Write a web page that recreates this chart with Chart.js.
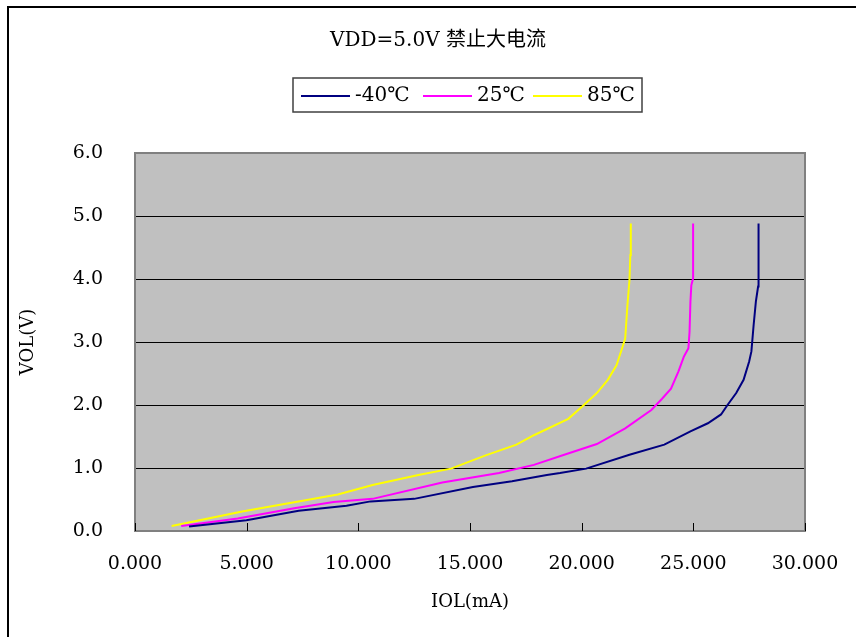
<!DOCTYPE html>
<html>
<head>
<meta charset="utf-8">
<script src="https://cdn.jsdelivr.net/npm/chart.js@4.4.1/dist/chart.umd.min.js"></script>
<style>
  html, body { margin: 0; padding: 0; background: #fff; }
  #wrap { width: 856px; height: 637px; }
</style>
</head>
<body>
<div id="wrap"><canvas id="ivChart" width="856" height="637"></canvas></div>
<script>
// Curve data (IOL in mA, VOL in V)
const seriesLabels = ['-40℃', '25℃', '85℃'];
const seriesColors = ['#000080', '#FF00FF', '#FFFF00'];

const coldI = [2.42, 4.99, 7.33, 9.47, 10.55, 12.5, 15.13, 16.88, 18.44, 19.03, 20.2, 22.14, 23.7, 24.87, 25.65, 26.24, 26.53, 26.92, 27.25, 27.5, 27.6, 27.7, 27.8, 27.9, 27.93, 27.91];
const coldV = [0.07, 0.17, 0.32, 0.40, 0.47, 0.51, 0.70, 0.79, 0.89, 0.92, 0.99, 1.21, 1.37, 1.58, 1.71, 1.85, 2.00, 2.19, 2.40, 2.69, 2.85, 3.27, 3.64, 3.88, 4.01, 4.88];

const roomI = [2.07, 4.6, 7.13, 8.89, 10.64, 13.76, 16.3, 17.86, 19.22, 20.68, 21.95, 23.12, 23.6, 24.0, 24.33, 24.58, 24.78, 24.83, 24.87, 24.91, 24.99, 24.99];
const roomV = [0.08, 0.20, 0.36, 0.46, 0.51, 0.77, 0.92, 1.05, 1.21, 1.38, 1.63, 1.92, 2.10, 2.26, 2.53, 2.77, 2.90, 3.16, 3.64, 3.90, 4.01, 4.88];

const hotI = [1.64, 4.8, 9.08, 10.64, 12.69, 14.15, 15.7, 17.08, 17.86, 19.4, 20.1, 20.68, 21.17, 21.56, 21.81, 21.95, 22.05, 22.14, 22.18, 22.2];
const hotV = [0.08, 0.31, 0.58, 0.73, 0.89, 0.99, 1.20, 1.37, 1.52, 1.78, 2.00, 2.19, 2.40, 2.63, 2.90, 3.06, 3.59, 3.98, 4.38, 4.88];

const chartTitle = 'VDD=5.0V 禁止大电流';
const xTitle = 'IOL(mA)';
const yTitle = 'VOL(V)';

const FONT = "'DejaVu Serif', 'Noto Sans CJK SC', serif";

function toPoints(xs, ys) {
  return xs.map((x, i) => ({ x: x, y: ys[i] }));
}

// Frame, plot background, inner x ticks, title and boxed legend
const decor = {
  id: 'decor',
  beforeDraw(chart) {
    const ctx = chart.ctx;
    const a = chart.chartArea;
    ctx.save();
    ctx.fillStyle = '#fff';
    ctx.fillRect(0, 0, chart.width, chart.height);
    // outer frame (top and left edges only visible)
    ctx.strokeStyle = '#000';
    ctx.lineWidth = 2;
    ctx.beginPath();
    ctx.moveTo(8, chart.height);
    ctx.lineTo(8, 7);
    ctx.lineTo(chart.width, 7);
    ctx.stroke();
    // plot background
    ctx.fillStyle = '#C0C0C0';
    ctx.fillRect(a.left, a.top, a.right - a.left, a.bottom - a.top);
    ctx.restore();
  },
  afterDatasetsDraw(chart) {
    const ctx = chart.ctx;
    const a = chart.chartArea;
    const xs = chart.scales.x;
    ctx.save();
    ctx.strokeStyle = '#808080';
    ctx.lineWidth = 2;
    ctx.strokeRect(a.left, a.top, a.right - a.left, a.bottom - a.top);
    ctx.strokeStyle = '#000';
    ctx.lineWidth = 1;
    xs.ticks.forEach(t => {
      const px = Math.round(xs.getPixelForValue(t.value)) + 0.5;
      ctx.beginPath();
      ctx.moveTo(px, a.bottom);
      ctx.lineTo(px, a.bottom - 8);
      ctx.stroke();
    });
    ctx.restore();
  },
  afterDraw(chart) {
    const ctx = chart.ctx;
    ctx.save();
    ctx.fillStyle = '#000';
    ctx.textBaseline = 'middle';
    ctx.textAlign = 'center';
    ctx.font = "20px " + FONT;
    ctx.fillText(chartTitle, 438, 41);

    // legend box
    const bx = 293, by = 78, bw = 349, bh = 34;
    ctx.strokeStyle = '#404040';
    ctx.lineWidth = 1.5;
    ctx.strokeRect(bx, by, bw, bh);
    ctx.font = "20px " + FONT;
    ctx.textAlign = 'left';
    const starts = [301, 423, 533];
    chart.data.datasets.forEach((ds, i) => {
      const sx = starts[i];
      ctx.strokeStyle = ds.borderColor;
      ctx.lineWidth = 2;
      ctx.beginPath();
      ctx.moveTo(sx, 96);
      ctx.lineTo(sx + 49, 96);
      ctx.stroke();
      ctx.fillStyle = '#000';
      ctx.fillText(ds.label, sx + 54, 96);
    });
    ctx.restore();
  }
};

new Chart(document.getElementById('ivChart'), {
  type: 'scatter',
  data: {
    datasets: [
      { label: seriesLabels[0], data: toPoints(coldI, coldV), borderColor: seriesColors[0], backgroundColor: seriesColors[0] },
      { label: seriesLabels[1], data: toPoints(roomI, roomV), borderColor: seriesColors[1], backgroundColor: seriesColors[1] },
      { label: seriesLabels[2], data: toPoints(hotI, hotV), borderColor: seriesColors[2], backgroundColor: seriesColors[2] }
    ].map(ds => Object.assign(ds, { showLine: true, pointRadius: 0, borderWidth: 2, tension: 0 }))
  },
  options: {
    responsive: false,
    animation: false,
    devicePixelRatio: 1,
    layout: { padding: { top: 153, left: 0, right: 51, bottom: 0 } },
    plugins: {
      legend: { display: false },
      title: { display: false },
      tooltip: { enabled: false }
    },
    scales: {
      x: {
        type: 'linear',
        min: 0,
        max: 30,
        ticks: {
          stepSize: 5,
          color: '#000',
          padding: 22,
          font: { family: FONT, size: 19 },
          callback: v => v.toFixed(3)
        },
        grid: { display: false, drawTicks: false },
        border: { display: false },
        title: {
          display: true,
          text: xTitle,
          color: '#000',
          font: { family: FONT, size: 18 },
          padding: { top: 0, bottom: 24 }
        },
        afterFit(scale) {
          scale.height = 106;
          scale.paddingLeft = 0;
          scale.paddingRight = 0;
        }
      },
      y: {
        type: 'linear',
        min: 0,
        max: 6,
        ticks: {
          stepSize: 1,
          color: '#000',
          padding: 32,
          font: { family: FONT, size: 19 },
          callback: v => v.toFixed(1)
        },
        grid: {
          drawTicks: false,
          color: ctx => (ctx.tick && (ctx.tick.value === 0 || ctx.tick.value === 6)) ? 'rgba(0,0,0,0)' : '#000',
          lineWidth: 1
        },
        border: { display: false },
        title: {
          display: true,
          text: yTitle,
          color: '#000',
          font: { family: FONT, size: 18 },
          padding: { top: 18, bottom: 0 }
        },
        afterFit(scale) {
          scale.width = 135;
          scale.paddingTop = 0;
          scale.paddingBottom = 0;
        }
      }
    }
  },
  plugins: [decor]
});
</script>
</body>
</html>
